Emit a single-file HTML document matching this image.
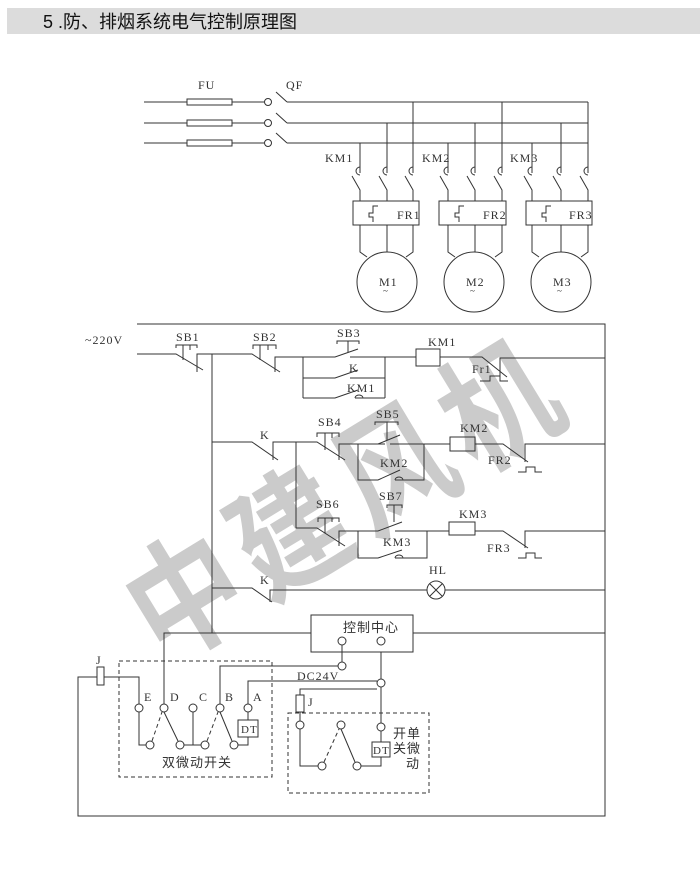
<!DOCTYPE html>
<html><head><meta charset="utf-8"><style>
html,body{margin:0;padding:0;background:#fff;}
svg{display:block;}
text{font-family:"Liberation Serif","Noto Serif CJK SC",serif;fill:#333;letter-spacing:1px;}
.c{font-family:"Liberation Sans","Noto Sans CJK SC",sans-serif;}
</style></head><body>
<svg width="700" height="890" viewBox="0 0 700 890" xmlns="http://www.w3.org/2000/svg">
<rect x="7" y="8" width="693" height="26" fill="#dcdcdc"/>
<text class="c" x="43" y="28" font-size="18" style="fill:#111;letter-spacing:0">5 .防、排烟系统电气控制原理图</text>

<!-- watermark -->
<text class="c" x="0" y="0" font-size="130" font-weight="bold" text-anchor="middle" style="fill:#cbcbcb;letter-spacing:14px" transform="translate(372,538) rotate(-31.4) scale(0.85,1)">中建风机</text>

<g stroke="#333" stroke-width="1" fill="none">
<line x1="144" y1="102" x2="187" y2="102"/><line x1="232" y1="102" x2="264" y2="102"/>
<line x1="144" y1="123" x2="187" y2="123"/><line x1="232" y1="123" x2="264" y2="123"/>
<line x1="144" y1="143" x2="187" y2="143"/><line x1="232" y1="143" x2="264" y2="143"/>
<rect x="187" y="99" width="45" height="6"/><rect x="187" y="120" width="45" height="6"/><rect x="187" y="140" width="45" height="6"/>
<circle cx="268" cy="102" r="3.5" fill="#fff"/><circle cx="268" cy="123" r="3.5" fill="#fff"/><circle cx="268" cy="143" r="3.5" fill="#fff"/>
<line x1="276" y1="92" x2="287" y2="102"/><line x1="276" y1="113" x2="287" y2="123"/><line x1="276" y1="133" x2="287" y2="143"/>
<line x1="287" y1="102" x2="588" y2="102"/><line x1="287" y1="123" x2="588" y2="123"/><line x1="287" y1="143" x2="588" y2="143"/>
</g>
<g stroke="#333" stroke-width="1" fill="none">
<path d="M360 143V173 M387 123V173 M413 102V173"/>
<path d="M448 143V173 M475 123V173 M502 102V173"/>
<path d="M532 143V173 M561 123V173 M588 102V173"/>
<path d="M360 167a4 4 0 0 0 0 8 M387 167a4 4 0 0 0 0 8 M413 167a4 4 0 0 0 0 8 M448 167a4 4 0 0 0 0 8 M475 167a4 4 0 0 0 0 8 M502 167a4 4 0 0 0 0 8 M532 167a4 4 0 0 0 0 8 M561 167a4 4 0 0 0 0 8 M588 167a4 4 0 0 0 0 8"/>
<path d="M352 176L360 190V201 M379 176L387 190V201 M405 176L413 190V201"/>
<path d="M440 176L448 190V201 M467 176L475 190V201 M494 176L502 190V201"/>
<path d="M524 176L532 190V201 M553 176L561 190V201 M580 176L588 190V201"/>
<rect x="353" y="201" width="66" height="24"/><rect x="439" y="201" width="67" height="24"/><rect x="526" y="201" width="66" height="24"/>
<path d="M378 206h-5v7h-4v4h4v5 M464 206h-5v7h-4v4h4v5 M551 206h-5v7h-4v4h4v5"/>
<path d="M360 225V252L367 257 M387 225V252 M413 225V252L406 257"/>
<path d="M448 225V252L455 257 M475 225V252 M502 225V252L495 257"/>
<path d="M532 225V252L539 257 M561 225V252 M588 225V252L581 257"/>
<circle cx="387" cy="282" r="30"/><circle cx="474" cy="282" r="30"/><circle cx="561" cy="282" r="30"/>
</g>
<g font-size="12">
<text x="198" y="89">FU</text><text x="286" y="89">QF</text>
<text x="325" y="162">KM1</text><text x="422" y="162">KM2</text><text x="510" y="162">KM3</text>
<text x="397" y="219">FR1</text><text x="483" y="219">FR2</text><text x="569" y="219">FR3</text>
<text x="379" y="286">M1</text><text x="466" y="286">M2</text><text x="553" y="286">M3</text>
<text x="383" y="294" font-size="9">~</text><text x="470" y="294" font-size="9">~</text><text x="557" y="294" font-size="9">~</text>
</g>

<g stroke="#333" stroke-width="1" fill="none">
<path d="M137 324H605V816H78V677H97"/>
<path d="M137 354H176L203 370 M197 372V354H252L280 372 M275 372V357H303"/>
<path d="M176 348V345H197V348 M183 345V360 M190 345V350"/>
<path d="M253 349V345H276V349 M260 345V360 M268 345V350"/>
<path d="M303 357H335L358 349 M350 357H385 M337 344V341H359V344 M348 341V352"/>
<path d="M303 357V398 M303 378H335L358 370 M350 378H385 M303 398H335L358 390 M355 398H385 M385 357V398"/>
<path d="M355 398a4 3 0 0 1 8 0"/>
<path d="M385 357H416 M440 357H482L507 377 M500 377V358H605"/>
<rect x="416" y="349" width="24" height="17"/>
<path d="M480 381H490V376H500V381H508"/>
<path d="M212 354V633"/>
<path d="M212 442H252L278 460 M273 460V442H317L345 460 M339 460V444H385"/>
<path d="M317 437V433H339V437 M325 433V450 M332 433V438"/>
<path d="M296 442V528"/>
<path d="M358 444H378L400 435 M390 444H424 M375 425V422H398V425 M387 422V440"/>
<path d="M358 444V480H378L400 470 M395 480H424V444 M395 480a4 3 0 0 1 8 0"/>
<path d="M424 444H450 M475 444H503L528 462 M525 462V444H605"/>
<rect x="450" y="437" width="25" height="14"/>
<path d="M518 472H526V467H535V472H542"/>
<path d="M296 528H317L345 546 M339 546V531H358"/>
<path d="M318 522V518H339V522 M325 518V533 M332 518V522"/>
<path d="M358 531H378L402 522 M395 531H427 M387 508V505H402V508 M394 505V522"/>
<path d="M358 531V558H378L402 550 M395 558H427V531 M395 558a4 3 0 0 1 8 0"/>
<path d="M427 531H449 M475 531H503L528 548 M525 548V531H605"/>
<rect x="449" y="522" width="26" height="13"/>
<path d="M518 558H526V553H535V558H542"/>
<path d="M212 588H252L272 602 M270 602V590H427 M445 590H605"/>
<circle cx="436" cy="590" r="9"/><path d="M430 584L442 596M442 584L430 596"/>
<rect x="311" y="615" width="102" height="37"/>
<path d="M413 633H605 M311 633H164V704"/>
<circle cx="342" cy="641" r="4"/><circle cx="381" cy="641" r="4"/>
<path d="M342 645V662 M338 666H220V704"/>
<circle cx="342" cy="666" r="4" fill="#fff"/>
<path d="M381 652V679 M377 681H248V704 M381 687V723 M377 689H300V695"/>
<circle cx="381" cy="683" r="4" fill="#fff"/>
<rect x="97" y="667" width="7" height="18"/>
<path d="M104 677H139V704"/>
<rect x="119" y="661" width="153" height="116" stroke-dasharray="4,3"/>
<circle cx="139" cy="708" r="4"/><circle cx="164" cy="708" r="4"/><circle cx="193" cy="708" r="4"/><circle cx="220" cy="708" r="4"/><circle cx="248" cy="708" r="4"/>
<circle cx="150" cy="745" r="4"/><circle cx="180" cy="745" r="4"/><circle cx="205" cy="745" r="4"/><circle cx="234" cy="745" r="4"/>
<path d="M139 712V745H146 M164 712L178 741 M184 745H201 M193 712V745 M220 712L232 741 M238 745H248V737 M248 712V720"/>
<path d="M152 741L162 712 M207 741L218 712" stroke-dasharray="4,3"/>
<rect x="238" y="720" width="20" height="17"/>
<rect x="288" y="713" width="141" height="80" stroke-dasharray="4,3"/>
<rect x="296" y="695" width="8" height="17"/>
<path d="M300 712V721"/>
<circle cx="300" cy="725" r="4"/><circle cx="341" cy="725" r="4"/><circle cx="381" cy="727" r="4"/>
<circle cx="322" cy="766" r="4"/><circle cx="357" cy="766" r="4"/>
<path d="M300 729V766H318 M341 729L355 762 M361 766H381V757 M381 731V742"/>
<path d="M324 762L339 729" stroke-dasharray="4,3"/>
<rect x="372" y="742" width="18" height="15"/>
</g>
<g font-size="12">
<text x="85" y="344">~220V</text>
<text x="176" y="341">SB1</text><text x="253" y="341">SB2</text><text x="337" y="337">SB3</text>
<text x="428" y="346">KM1</text><text x="349" y="372">K</text><text x="347" y="392">KM1</text>
<text x="472" y="373">Fr1</text>
<text x="260" y="439">K</text><text x="318" y="426">SB4</text><text x="376" y="418">SB5</text>
<text x="460" y="432">KM2</text><text x="380" y="467">KM2</text><text x="488" y="464">FR2</text>
<text x="316" y="508">SB6</text><text x="379" y="500">SB7</text>
<text x="459" y="518">KM3</text><text x="383" y="546">KM3</text><text x="487" y="552">FR3</text>
<text x="260" y="584">K</text><text x="429" y="574">HL</text>
<text x="96" y="664">J</text>
<text x="144" y="701">E</text><text x="170" y="701">D</text><text x="199" y="701">C</text><text x="225" y="701">B</text><text x="253" y="701">A</text>
<text x="297" y="680">DC24V</text>
<text x="241" y="733" font-size="11">DT</text><text x="373" y="754" font-size="11">DT</text>
<text x="308" y="706">J</text>
</g>
<g font-size="13">
<text class="c" x="343" y="632">控制中心</text>
<text class="c" x="162" y="767">双微动开关</text>
<text class="c" x="393" y="738">开单</text>
<text class="c" x="393" y="753">关微</text>
<text class="c" x="406" y="768">动</text>
</g>
</svg>
</body></html>
